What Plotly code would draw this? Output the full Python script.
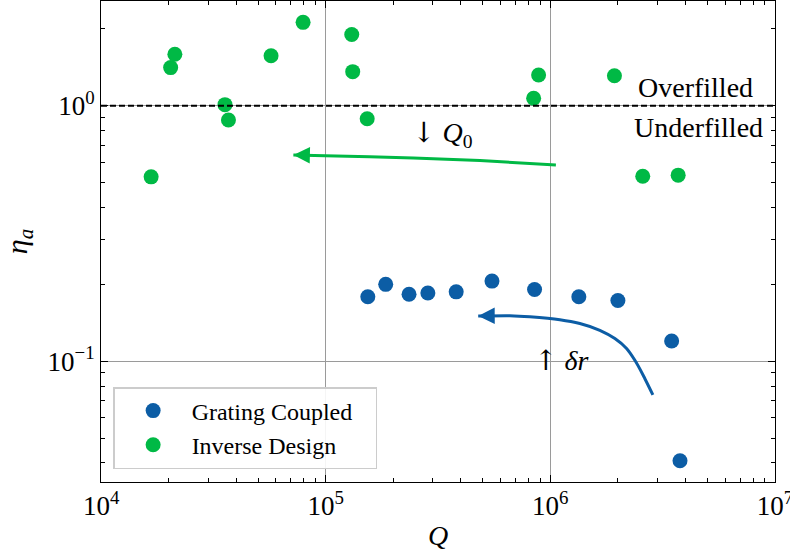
import math
import plotly.graph_objects as go

# Quality factor Q and aperture efficiency eta_a for the two coupler types
grating_q = [1.54e5, 1.85e5, 2.35e5, 2.85e5, 3.81e5, 5.50e5, 8.51e5, 1.34e6, 2.00e6, 3.47e6, 3.78e6]
grating_eta = [0.179, 0.200, 0.183, 0.185, 0.187, 0.206, 0.191, 0.179, 0.173, 0.120, 0.0408]

inverse_q = [1.67e4, 2.04e4, 2.13e4, 3.56e4, 3.69e4, 5.71e4, 7.93e4, 1.306e5, 1.319e5, 1.53e5,
             8.87e5, 8.43e5, 1.93e6, 2.58e6, 3.71e6]
inverse_eta = [0.527, 1.41, 1.59, 1.01, 0.88, 1.57, 2.12, 1.90, 1.36, 0.889,
               1.32, 1.07, 1.31, 0.530, 0.535]

# Guide-to-the-eye trend arrows (tail -> head)
q0_arrow_q = [1.059e6, 4.86e5, 2.455e5, 9.93e4, 7.18e4]
q0_arrow_eta = [0.587, 0.610, 0.624, 0.638, 0.642]
dr_arrow_q = [2.862e6, 2.591e6, 2.380e6, 2.186e6, 1.939e6, 1.662e6, 1.354e6, 1.103e6,
              8.11e5, 6.61e5, 4.776e5]
dr_arrow_eta = [0.0739, 0.0882, 0.1009, 0.1122, 0.1227, 0.1322, 0.1405, 0.1455,
                0.1494, 0.1508, 0.1505]

# Axis ticks
x_ticks = [1e4, 1e5, 1e6, 1e7]
x_tick_text = ["10<sup>4</sup>", "10<sup>5</sup>", "10<sup>6</sup>", "10<sup>7</sup>"]
y_ticks = [0.1, 1]
y_tick_text = ["10<sup>−1</sup>", "10<sup>0</sup>"]

BLUE = "#0C5DA5"
GREEN = "#00B945"
SERIF = "Liberation Serif, DejaVu Serif, serif"

x_range = [4 - 0.0005, 7 + 0.0005]
y_range = [math.log10(0.0337), math.log10(2.57)]


def minor_vals(lo, hi):
    return [m * 10 ** d for d in range(lo, hi) for m in range(2, 10)]


fig = go.Figure()

fig.add_trace(go.Scatter(
    x=grating_q, y=grating_eta, mode="markers", name="Grating Coupled\u00a0\u00a0\u00a0",
    marker=dict(color=BLUE, size=15, line=dict(width=0)),
))
fig.add_trace(go.Scatter(
    x=inverse_q, y=inverse_eta, mode="markers", name="Inverse Design",
    marker=dict(color=GREEN, size=15, line=dict(width=0)),
))

for xs, ys, col in [(q0_arrow_q, q0_arrow_eta, GREEN), (dr_arrow_q, dr_arrow_eta, BLUE)]:
    fig.add_trace(go.Scatter(
        x=xs, y=ys, mode="lines", line=dict(color=col, width=3, shape="spline", smoothing=0.5),
        showlegend=False, hoverinfo="skip",
    ))
    lx, ly = math.log10(xs[-1]), math.log10(ys[-1])
    px, py = math.log10(xs[-2]), math.log10(ys[-2])
    fig.add_annotation(
        x=lx, y=ly, ax=lx + 0.4 * (px - lx), ay=ly + 0.4 * (py - ly),
        xref="x", yref="y", axref="x", ayref="y", text="",
        showarrow=True, arrowhead=2, arrowsize=1.1, arrowwidth=3, arrowcolor=col,
    )

# Boundary between overfilled and underfilled regimes
fig.add_shape(type="line", xref="paper", yref="y", x0=0, x1=1, y0=1, y1=1,
              line=dict(color="black", width=2, dash="6px,3px"))

text_font = dict(family=SERIF, size=28, color="black")
ARROW_SPAN = '<span style="font-family:DejaVu Serif">{}</span>'
fig.add_annotation(x=6.648, y=0.070, text="Overfilled", showarrow=False, font=text_font)
fig.add_annotation(x=6.662, y=-0.086, text="Underfilled", showarrow=False, font=text_font)
fig.add_annotation(x=5.522, y=-0.112, text=ARROW_SPAN.format("↓") + " <i>Q</i><sub>0</sub>",
                   showarrow=False, font=text_font)
fig.add_annotation(x=6.047, y=-0.996, text=ARROW_SPAN.format("↑") + " <i>δr</i>",
                   showarrow=False, font=text_font)

axis_common = dict(
    type="log", showline=True, linecolor="black", linewidth=1, mirror="ticks",
    ticks="inside", ticklen=7, tickwidth=1, tickcolor="black",
    showgrid=True, gridcolor="#9a9a9a", gridwidth=1, zeroline=False,
    tickfont=dict(family=SERIF, size=27, color="black"), ticklabeloverflow="allow",
    automargin=False,
)

fig.update_xaxes(
    **axis_common, range=x_range, tickvals=x_ticks, ticktext=x_tick_text,
    minor=dict(ticks="inside", ticklen=4, tickcolor="black", tickvals=minor_vals(4, 7), showgrid=False),
    title=dict(text="<i>Q</i>", font=dict(family=SERIF, size=28, color="black"), standoff=4),
)
fig.update_yaxes(
    **axis_common, range=y_range, tickvals=y_ticks, ticktext=y_tick_text,
    minor=dict(ticks="inside", ticklen=4, tickcolor="black", tickvals=minor_vals(-2, 1), showgrid=False),
    title=dict(text="<i>η</i><sub><i>a</i></sub>", font=dict(family=SERIF, size=30, color="black"), standoff=16),
)

fig.update_layout(
    width=790, height=554,
    margin=dict(l=101, r=15, t=1, b=72, autoexpand=False),
    plot_bgcolor="white", paper_bgcolor="white",
    legend=dict(
        x=0.018, y=0.027, xanchor="left", yanchor="bottom",
        bgcolor="rgba(255,255,255,0.9)", bordercolor="#cccccc", borderwidth=1.5,
        font=dict(family=SERIF, size=24, color="black"), itemwidth=67,
    ),
)

fig.write_html("out.html")
